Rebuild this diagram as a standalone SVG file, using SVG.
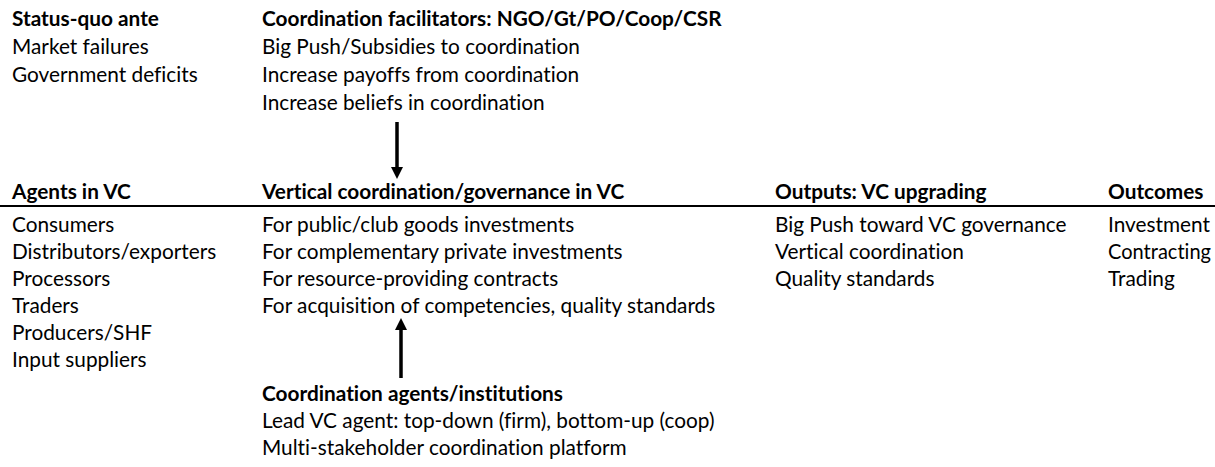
<svg xmlns="http://www.w3.org/2000/svg" width="1215" height="467" viewBox="0 0 1215 467">
<style>
text{font-family:Lato,"Noto Sans",sans-serif;font-size:20.8px;fill:#000;font-variant-ligatures:none;font-feature-settings:"liga" 0,"clig" 0,"dlig" 0}
.h{font-weight:bold}
.arr{stroke:#000;stroke-width:3.5;fill:none}
</style>
<defs>
<marker id="ah" markerWidth="12" markerHeight="12" refX="0" refY="6" orient="auto" markerUnits="userSpaceOnUse" viewBox="0 0 12 12"><path d="M0,0 L12,6 L0,12 Z" fill="#000"/></marker>
</defs>
<rect width="1215" height="467" fill="#fff"/>
<g id="status-quo">
<text x="12" y="26" class="h">Status-quo ante</text>
<text x="12" y="54">Market failures</text>
<text x="12" y="82">Government deficits</text>
</g>
<g id="facilitators">
<text x="262" y="26" class="h">Coordination facilitators: NGO/Gt/PO/Coop/CSR</text>
<text x="262" y="54">Big Push/Subsidies to coordination</text>
<text x="262" y="82">Increase payoffs from coordination</text>
<text x="262" y="110">Increase beliefs in coordination</text>
</g>
<line x1="0" y1="206" x2="1215" y2="206" stroke="#000" stroke-width="2"/>
<g id="agents">
<text x="12" y="199" class="h">Agents in VC</text>
<text x="12" y="232">Consumers</text>
<text x="12" y="259">Distributors/exporters</text>
<text x="12" y="286">Processors</text>
<text x="12" y="313">Traders</text>
<text x="12" y="340">Producers/SHF</text>
<text x="12" y="367">Input suppliers</text>
</g>
<g id="vertical">
<text x="262" y="199" class="h">Vertical coordination/governance in VC</text>
<text x="262" y="232">For public/club goods investments</text>
<text x="262" y="259">For complementary private investments</text>
<text x="262" y="286">For resource-providing contracts</text>
<text x="262" y="313">For acquisition of competencies, quality standards</text>
</g>
<g id="outputs">
<text x="775" y="199" class="h">Outputs: VC upgrading</text>
<text x="775" y="232">Big Push toward VC governance</text>
<text x="775" y="259">Vertical coordination</text>
<text x="775" y="286">Quality standards</text>
</g>
<g id="outcomes">
<text x="1108" y="199" class="h">Outcomes</text>
<text x="1108" y="232">Investment</text>
<text x="1108" y="259" textLength="103" lengthAdjust="spacingAndGlyphs">Contracting</text>
<text x="1108" y="286">Trading</text>
</g>
<g id="coord-agents">
<text x="262" y="401" class="h">Coordination agents/institutions</text>
<text x="262" y="428">Lead VC agent: top-down (firm), bottom-up (coop)</text>
<text x="262" y="455">Multi-stakeholder coordination platform</text>
</g>
<g id="connectors">
<line class="arr" x1="397" y1="122" x2="397" y2="167" marker-end="url(#ah)"/>
<line class="arr" x1="401" y1="378" x2="401" y2="330" marker-end="url(#ah)"/>
</g>
</svg>
